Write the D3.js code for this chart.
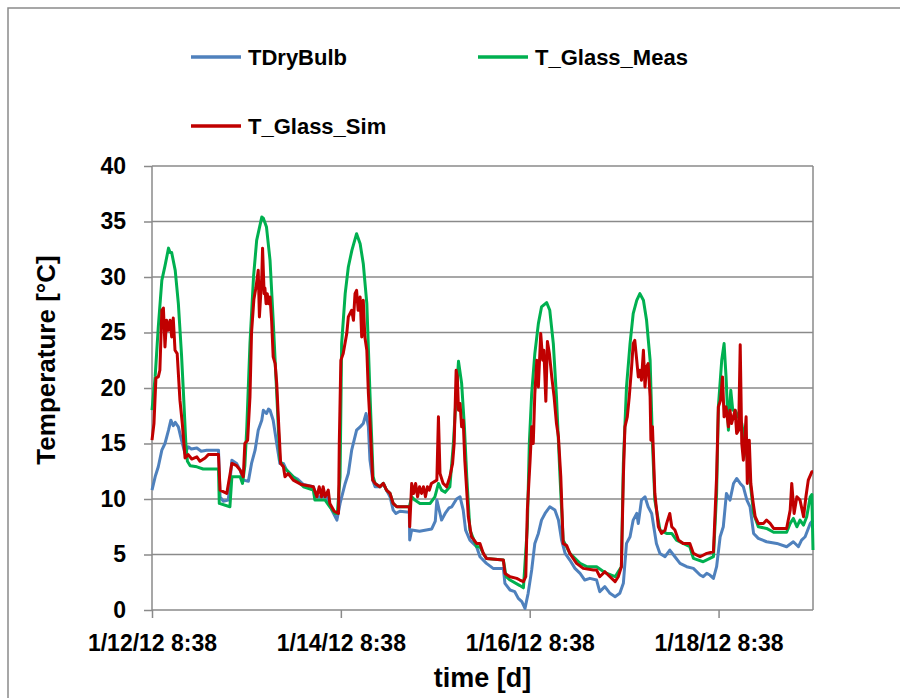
<!DOCTYPE html>
<html>
<head>
<meta charset="utf-8">
<script src="https://cdn.jsdelivr.net/npm/d3@7"></script>
<style>
  body { margin: 0; background: #fff; }
  text { font-family: "Liberation Sans", Arial, sans-serif; font-weight: bold; fill: #000; }
</style>
</head>
<body>
<svg id="chart"></svg>
<script>
// hours since 1/12/12 8:38, temperature in degC
const tDryBulb = [[0,10.8],[0.8,12],[1.6,12.9],[2.5,14.4],[3.3,15],[4.2,16.2],[4.8,17.1],[5.4,16.6],[5.9,16.9],[6.7,16.5],[7.5,15.3],[8.4,14.1],[9.2,14.7],[10,14.5],[11.4,14.6],[12.5,14.3],[13.9,14.4],[16.9,14.4],[17.3,10.2],[18.1,9.8],[19.4,9.9],[20.3,13.5],[21.5,13.2],[22.4,12.6],[23.2,11.7],[24.5,11.6],[25.3,13.2],[26.2,14.4],[27,16.2],[27.9,17.1],[28.3,18],[29.1,17.7],[29.6,18.1],[30,18],[30.8,17.1],[31.7,15],[32.5,13.2],[33.4,13.2],[34.2,12.6],[35.9,12],[37,11.8],[38.5,11.3],[41,11.1],[41.9,10.2],[44.4,10.2],[45.7,9],[47,8.1],[47.8,9.6],[49.1,11.4],[49.9,12.3],[50.75,14.4],[52,16.2],[52.9,16.5],[53.7,16.8],[54.4,17.7],[55,16.5],[55.4,13.5],[56.1,11.7],[56.7,11.1],[57.9,11.1],[58.8,11.4],[59.6,10.8],[60.5,10.2],[61.3,9],[62,8.7],[63,8.9],[65.4,8.8],[65.5,6.3],[66,7.2],[68,7.1],[71.1,7.3],[72,8],[72.4,9.9],[73.6,8.1],[74.5,8.7],[75.5,9.2],[76.2,9.3],[77.4,10],[78.3,10.2],[79.1,9],[79.7,7.2],[80.8,6.3],[82.5,5.7],[83.35,4.8],[85,4.2],[86.7,3.75],[89.3,3.75],[89.7,2.4],[91,1.8],[92.2,1.65],[93.1,1.05],[94,0.75],[94.8,0.15],[95.6,1.5],[96.5,3.6],[97.3,6],[98.2,6.9],[99,8.1],[99.9,8.7],[101.1,9.3],[102.4,9],[103.3,8.1],[104.1,6.3],[105,5.1],[106.2,4.5],[107.5,3.75],[108.8,3.3],[110,2.7],[111.3,2.85],[113,2.7],[113.8,1.65],[115.1,2.1],[116.4,1.5],[117.7,1.2],[118.9,1.5],[119.8,2.4],[120.6,6],[121.5,6.6],[122.3,8.1],[123.2,8.7],[123.6,7.8],[124.4,9.9],[125.3,10.2],[126.1,9.3],[127,8.7],[128.2,6],[129.1,5.1],[130.4,4.8],[131.6,5.4],[132.9,4.8],[134.2,4.2],[135.9,3.9],[137.6,3.75],[139.3,3.15],[140.1,3],[141,3.3],[141.8,3.15],[142.7,2.85],[143.5,3.9],[144.4,6.6],[145.2,7.5],[146,10.5],[146.9,9.9],[147.8,11.4],[148.6,11.85],[149.5,11.4],[150.3,11.1],[151.2,9.9],[152,9.3],[152.9,6.9],[154.1,6.45],[156.2,6.15],[158.8,6],[161.3,5.7],[163,6.15],[164.3,5.7],[165.1,6.3],[166,6.6],[167.3,7.8],[168,8.1]];

const tGlassMeas = [[0,18],[0.8,21],[1.6,25.5],[2.5,29.7],[3.3,31],[4.2,32.6],[4.6,32.2],[5,32.2],[5.9,30.6],[6.7,27.6],[7.5,23],[8,19.5],[8.6,15],[9,13.4],[9.7,13],[11.4,12.9],[13,12.7],[16.9,12.7],[17.1,9.6],[19.8,9.3],[20.3,12],[22.4,12],[23,11.4],[23.6,13],[24.1,16.5],[24.9,24],[25.8,30],[26.6,33.3],[27.9,35.4],[28.3,35.3],[29.1,34.5],[30,31.5],[30.8,26.1],[31.7,19.5],[32.5,13.5],[33.4,12.9],[35.9,12],[38.5,11.1],[41,10.8],[41.4,9.9],[44,9.9],[45.2,9.3],[46.5,8.7],[47.1,8.7],[47.8,12],[48.2,24],[49.1,28.5],[49.9,30.9],[50.8,32.4],[52,33.9],[52.9,33],[53.7,31.2],[54.6,27.6],[55.4,19.5],[56.2,12],[56.7,11.4],[57.9,11.1],[58.8,11.4],[59.6,10.8],[60.5,10.5],[61.3,9.6],[62.2,9.3],[65.4,9.3],[66,10.2],[66.8,9.9],[68.1,9.6],[70.7,9.6],[71.9,10.2],[72.8,11.4],[73.6,10.8],[74.5,10.6],[75.7,11.1],[76.6,15],[77.3,19.2],[77.9,22.4],[78.7,20.4],[79.4,16.5],[80,12],[80.8,7.2],[82.5,5.7],[83.35,5.7],[84.2,5.1],[85,4.65],[89.3,4.5],[90,3],[91,2.7],[93.5,2.2],[94.4,2],[95.4,7.5],[95.9,15],[96.5,19.5],[97.3,23.1],[98.2,25.8],[99,27.3],[100.3,27.7],[101.1,27],[102,24],[102.8,19.2],[103.7,12],[104.5,6.3],[106.2,5.1],[108.8,4.2],[110.5,3.9],[113,3.9],[115,3.4],[117.7,3],[119.3,3.9],[119.8,13.2],[120.6,20.1],[121.5,24],[122.3,26.7],[123.2,27.9],[124,28.5],[124.9,27.9],[125.7,26.1],[126.6,22.5],[127.2,15],[127.8,9.9],[129.1,7.2],[130.8,6.9],[132.1,6.9],[133.3,6.3],[135,6],[136.7,5.7],[137.6,4.65],[140.1,4.35],[142.7,4.8],[143.5,10.5],[143.95,18.3],[144.8,22.5],[145.4,24],[145.9,21],[146.5,16.2],[147.1,19.8],[147.6,18],[148.2,18],[149,17.4],[149.9,16.8],[150.7,15],[151.6,12.9],[152.9,8.7],[154.1,7.5],[156.2,7.35],[158,7],[161.3,7],[162.2,7.8],[163,8.25],[163.9,7.5],[164.7,8.1],[165.6,7.65],[166.4,8.4],[167.3,10.2],[167.7,10.4],[168,5.4]];

const tGlassSim = [[0,15.3],[0.5,16.8],[1,20.9],[1.6,21],[2,21.6],[2.5,27],[2.9,27.2],[3.3,23.7],[3.7,26.1],[4.15,25.2],[4.6,26.1],[5,24.6],[5.4,26.3],[5.85,23.4],[6.4,23.1],[7.1,18.9],[7.7,16.8],[8.4,13.7],[9.2,14],[10.1,13.6],[11.4,13.8],[12.2,13.4],[13.5,13.7],[14.3,14],[16.9,14],[17.3,10.8],[19,10.5],[20.3,13.2],[21.5,13],[22.4,12.6],[23.2,12],[23.6,15],[24.3,15.3],[24.9,19.2],[25.3,25],[25.9,28],[26.4,29],[27,30.6],[27.3,26.4],[27.9,30],[28.1,32.6],[28.5,28.5],[28.7,29],[29,27.6],[29.3,28.5],[29.6,27.6],[30,28.2],[30.4,26.1],[30.8,22.8],[31.3,22.2],[31.7,20.4],[32.1,17.4],[32.7,13.2],[33.4,12.9],[33.8,12],[34.6,12.3],[35.9,11.7],[38,11.3],[41,11.1],[41.9,10.2],[42.5,11.1],[43.1,10.2],[43.5,11.1],[44,10.2],[44.8,10.8],[45.2,9.6],[46.3,8.9],[47.4,8.7],[47.6,15],[48,22.5],[48.6,23.1],[49.5,24.9],[49.9,26.4],[50.3,26.7],[50.75,27],[51.2,26.1],[51.6,28.5],[52,28.8],[52.4,27],[52.9,28.2],[53.3,24.6],[53.7,27.9],[54.1,24.6],[54.6,23.4],[55,19.5],[55.4,17],[56.1,11.7],[56.7,11.4],[57.9,11.1],[58.8,11.4],[59.6,10.8],[60.5,10.5],[61.3,9.6],[62.2,9.3],[65.4,9.3],[65.5,7.5],[66,11.4],[66.5,10.5],[67,11.4],[67.5,10.2],[68,11.1],[68.5,10.5],[69,11.1],[69.5,10.2],[70,11.1],[70.5,10.8],[71,11.4],[72.4,11.7],[72.8,17.4],[73.2,12.3],[74,11.4],[74.9,11.1],[75.7,12],[76.4,13.2],[76.8,15],[77.3,21.6],[77.6,21],[77.9,18],[78.3,18.6],[78.7,16.5],[79.1,17.1],[79.5,13.5],[80.4,8.4],[81.2,6.6],[82.5,6],[83.35,6],[84.2,5.1],[85,4.65],[89.3,4.5],[89.7,3.3],[91,3],[92.7,2.85],[93.5,2.7],[94.4,2.55],[95,3],[95.4,9],[96.1,13.5],[96.5,16.5],[96.9,15],[97.3,19.5],[97.8,22.5],[98.2,20.1],[98.8,24.9],[99.3,22.5],[99.6,23.4],[100.1,18.8],[100.5,24.2],[101,23.1],[101.6,21],[102.2,19.2],[102.8,16.8],[103.3,15.6],[103.9,12],[104.5,6],[105.4,5.8],[106.2,5.1],[107.9,4.2],[109.6,3.75],[112.2,3.6],[113,3.6],[113.8,3],[115.1,3.45],[116.4,3],[117.7,2.55],[118.5,3],[119.3,3.9],[119.8,12],[120.2,16.5],[120.8,17.4],[121.3,19.2],[121.9,21.9],[122.3,24],[122.7,24.3],[123.2,22.5],[123.6,21],[124,21.6],[124.4,20.7],[124.9,23.4],[125.3,20.1],[125.7,21.9],[126.1,22.2],[126.6,19.2],[126.8,15.3],[127.2,16.5],[127.8,10.5],[128.7,7.5],[129.5,6.9],[130.4,7.2],[130.8,7.8],[131.6,8.7],[132.1,7.5],[132.9,7.2],[133.8,6.3],[135,6],[136.7,6],[137.6,5.1],[139.3,4.8],[141,5.1],[142.7,5.25],[143.5,12],[143.95,18.3],[144.5,18.9],[145,21],[145.4,17.4],[145.9,18.3],[146.5,16.5],[146.9,18],[147.3,16.8],[148.2,18],[148.6,15.9],[149.1,16.2],[149.5,23.9],[149.9,15],[150.3,13.5],[151,17.4],[151.3,11.4],[151.8,15.3],[152.2,11.4],[152.7,9.9],[153.3,8.4],[154.1,7.8],[155.4,7.8],[156.2,8.1],[157.1,7.8],[158,7.35],[161.3,7.35],[162.2,9],[162.6,11.4],[163.2,8.7],[163.9,10.2],[164.7,9.9],[165.6,8.4],[166.2,10.2],[166.8,11.7],[167.7,12.45],[168,12.45]];

const seriesNames = ['TDryBulb', 'T_Glass_Meas', 'T_Glass_Sim'];
const xTicks = [0, 48, 96, 144];
const xTickLabels = ['1/12/12 8:38', '1/14/12 8:38', '1/16/12 8:38', '1/18/12 8:38'];
const yTicks = [0, 5, 10, 15, 20, 25, 30, 35, 40];

const width = 900, height = 698;
const plot = {left: 152, right: 813, top: 166, bottom: 610};
const gridColor = '#8a8a8a';

const colors = d3.scaleOrdinal()
    .domain(seriesNames)
    .range(['#4f81bd', '#00b050', '#c00000']);

const series = [
    {name: seriesNames[0], values: tDryBulb},
    {name: seriesNames[1], values: tGlassMeas},
    {name: seriesNames[2], values: tGlassSim}
];

const svg = d3.select('#chart')
    .attr('width', width)
    .attr('height', height);

svg.append('rect')
    .attr('width', width).attr('height', height)
    .attr('fill', '#fff');

// outer chart frame
svg.append('rect')
    .attr('x', 8).attr('y', 8)
    .attr('width', width).attr('height', height)
    .attr('fill', 'none')
    .attr('stroke', gridColor)
    .attr('stroke-width', 1.5);

const x = d3.scaleLinear()
    .domain([0, 168])
    .range([plot.left, plot.right]);

const y = d3.scaleLinear()
    .domain([0, 40])
    .range([plot.bottom, plot.top]);

// gridlines
svg.append('g')
    .selectAll('line')
    .data(yTicks.filter(d => d > 0))
    .join('line')
    .attr('x1', plot.left).attr('x2', plot.right)
    .attr('y1', d => y(d)).attr('y2', d => y(d))
    .attr('stroke', gridColor)
    .attr('stroke-width', 1.5);

// right border of plot area
svg.append('line')
    .attr('x1', plot.right).attr('x2', plot.right)
    .attr('y1', plot.top).attr('y2', plot.bottom)
    .attr('stroke', gridColor)
    .attr('stroke-width', 1.5);

const yAxis = svg.append('g')
    .attr('transform', `translate(${plot.left},0)`)
    .call(d3.axisLeft(y).tickValues(yTicks).tickSize(8).tickPadding(18));

const xAxis = svg.append('g')
    .attr('transform', `translate(0,${plot.bottom})`)
    .call(d3.axisBottom(x).tickValues(xTicks).tickSize(8).tickPadding(17)
        .tickFormat((d, i) => xTickLabels[i]));

[yAxis, xAxis].forEach(a => {
    a.select('.domain').attr('stroke', gridColor).attr('stroke-width', 1.5);
    a.selectAll('.tick line').attr('stroke', gridColor).attr('stroke-width', 1.5);
    a.selectAll('text')
        .attr('font-family', '"Liberation Sans", Arial, sans-serif')
        .attr('font-weight', 'bold')
        .attr('font-size', 23)
        .attr('fill', '#000');
});
yAxis.select('.domain').attr('d', `M0,${plot.bottom}V${plot.top}`);
xAxis.select('.domain').attr('d', `M${plot.left},0H${plot.right}`);

const line = d3.line()
    .x(d => x(d[0]))
    .y(d => y(d[1]));

svg.append('g')
    .selectAll('path')
    .data(series)
    .join('path')
    .attr('d', d => line(d.values))
    .attr('fill', 'none')
    .attr('stroke', d => colors(d.name))
    .attr('stroke-width', 3)
    .attr('stroke-linejoin', 'round');

// axis titles
svg.append('text')
    .attr('transform', 'translate(55,360) rotate(-90)')
    .attr('text-anchor', 'middle')
    .attr('font-size', 26)
    .text('Temperature [°C]');

svg.append('text')
    .attr('x', (plot.left + plot.right) / 2)
    .attr('y', 687)
    .attr('text-anchor', 'middle')
    .attr('font-size', 27)
    .text('time [d]');

// legend
const legendPos = [[191, 57], [478, 57], [191, 126]];
const legend = svg.append('g')
    .selectAll('g')
    .data(seriesNames)
    .join('g')
    .attr('transform', (d, i) => `translate(${legendPos[i][0]},${legendPos[i][1]})`);

legend.append('line')
    .attr('x1', 0).attr('x2', 50)
    .attr('stroke', d => colors(d))
    .attr('stroke-width', 3.5);

legend.append('text')
    .attr('x', 57)
    .attr('dy', '0.35em')
    .attr('font-size', 22)
    .text(d => d);
</script>
</body>
</html>
